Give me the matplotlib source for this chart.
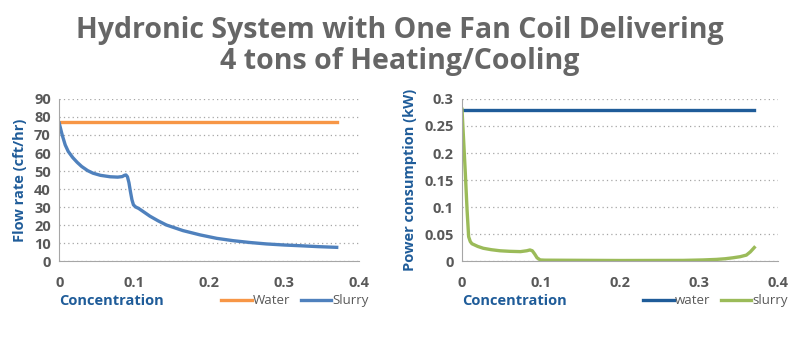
import matplotlib.pyplot as plt

plt.rcParams['font.family'] = ['Open Sans', 'DejaVu Sans']

# flow rate (cft/hr) vs concentration
conc_flow = [0, 0.004, 0.008, 0.012, 0.018, 0.024, 0.03, 0.038, 0.045, 0.055, 0.068,
             0.078, 0.084, 0.087, 0.089, 0.091, 0.093, 0.095, 0.097, 0.099, 0.102,
             0.106, 0.113, 0.121, 0.132, 0.143, 0.165, 0.188, 0.21, 0.232, 0.254,
             0.276, 0.3, 0.321, 0.345, 0.37]
slurry_flow = [76.6, 70.0, 64.5, 60.9, 57.5, 54.8, 52.5, 50.2, 48.8, 47.6, 46.8,
               46.6, 46.9, 47.6, 47.8, 46.8, 43.5, 38.5, 34.0, 31.2, 30.0,
               29.2, 27.2, 24.9, 22.3, 20.0, 16.9, 14.5, 12.6, 11.3, 10.3,
               9.5, 8.9, 8.5, 8.0, 7.6]
water_conc = [0, 0.37]
water_flow = [77, 77]

# power consumption (kW) vs concentration
conc_power = [0, 0.002, 0.0042, 0.0064, 0.0084, 0.0105, 0.0126, 0.02, 0.027, 0.037,
              0.048, 0.06, 0.074, 0.082, 0.086, 0.089, 0.092, 0.095, 0.099, 0.105,
              0.12, 0.2, 0.28, 0.305, 0.322, 0.333, 0.343, 0.352, 0.36, 0.365, 0.37]
slurry_power = [0.281, 0.225, 0.163, 0.095, 0.045, 0.036, 0.032, 0.027, 0.0236, 0.021,
                0.019, 0.018, 0.0174, 0.019, 0.0205, 0.019, 0.013, 0.006, 0.002, 0.0016,
                0.0015, 0.001, 0.0012, 0.002, 0.003, 0.0042, 0.006, 0.008, 0.011, 0.017, 0.025]
water_power = [0.28, 0.28]

gray = '#595959'
navy = '#1f5c99'

fig = plt.figure(figsize=(8, 3.39), dpi=100)
fig.text(0.5, 0.865, 'Hydronic System with One Fan Coil Delivering\n4 tons of Heating/Cooling',
         ha='center', va='center', fontsize=20.5, fontweight='bold', color='#666666',
         linespacing=1.08)

ax1 = fig.add_axes([0.074, 0.230, 0.375, 0.478])
ax2 = fig.add_axes([0.5775, 0.230, 0.395, 0.478])


def style(ax):
    for s in ['top', 'right']:
        ax.spines[s].set_visible(False)
    for s in ['left', 'bottom']:
        ax.spines[s].set_color('#a6a6a6')
        ax.spines[s].set_linewidth(0.8)
    ax.grid(axis='y', linestyle=(0, (1, 2.5)), color='#a6a6a6', linewidth=0.9)
    ax.set_axisbelow(True)
    ax.tick_params(length=0, labelsize=10.5, labelcolor=gray, pad=11)
    ax.tick_params(axis='y', pad=6)
    ax.set_xlim(0, 0.4)
    ax.set_xticks([0, 0.1, 0.2, 0.3, 0.4])
    ax.set_xticklabels(['0', '0.1', '0.2', '0.3', '0.4'], fontweight='bold')
    ax.set_xlabel('Concentration', loc='left', color=navy, fontsize=10.5,
                  fontweight='bold', labelpad=3)


def legend(ax, x):
    ax.legend(loc='lower right', bbox_to_anchor=(x, -0.285), ncol=2, frameon=False,
              fontsize=9.5, handlelength=2.3, handletextpad=0.1, columnspacing=0.8,
              labelcolor=gray, borderpad=0, borderaxespad=0)


ax1.plot(water_conc, water_flow, color='#f79646', lw=2.4, label='Water')
ax1.plot(conc_flow, slurry_flow, color='#4f81bd', lw=2.4, label='Slurry')
ax1.set_ylim(0, 90)
ax1.set_yticks(range(0, 91, 10))
style(ax1)
ax1.set_yticklabels([str(v) for v in range(0, 91, 10)], fontweight='bold')
ax1.set_ylabel('Flow rate (cft/hr)', color=navy, fontsize=10.5, fontweight='bold', labelpad=5)
legend(ax1, 1.033)

ax2.plot(water_conc, water_power, color='#1f5c99', lw=2.4, label='water')
ax2.plot(conc_power, slurry_power, color='#9bbb59', lw=2.4, label='slurry')
ax2.set_ylim(0, 0.3)
ax2.set_yticks([0, 0.05, 0.1, 0.15, 0.2, 0.25, 0.3])
style(ax2)
ax2.set_yticklabels(['0', '0.05', '0.1', '0.15', '0.2', '0.25', '0.3'], fontweight='bold')
ax2.set_ylabel('Power consumption (kW)', color=navy, fontsize=10.5, fontweight='bold', labelpad=5)
legend(ax2, 1.032)

fig.savefig('out.png', dpi=100)
